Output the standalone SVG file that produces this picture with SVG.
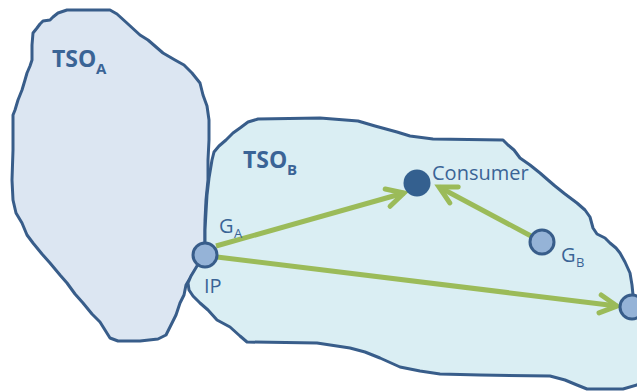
<svg xmlns="http://www.w3.org/2000/svg" width="637" height="392" viewBox="0 0 637 392">
<style>
.region{stroke:#385D8A;stroke-width:3;stroke-linejoin:round}
.node{fill:#95B3D7;stroke:#385D8A;stroke-width:3}
.flow{fill:none;stroke:#9BBB59;stroke-width:5}
.lbl{font-family:"Open Sans","DejaVu Sans",sans-serif;fill:#3A6496}
.big{font-weight:bold;font-size:23px}
.reg{font-size:20px}
</style>
<defs>
<marker id="chev" markerUnits="userSpaceOnUse" orient="auto" markerWidth="30" markerHeight="30" refX="0" refY="0" viewBox="-22 -15 30 30" overflow="visible">
<path d="M-17,-9 L0,0 L-17,9" fill="none" stroke="#9BBB59" stroke-width="5" stroke-linejoin="miter" stroke-linecap="round"/>
</marker>
</defs>
<rect width="637" height="392" fill="#FFFFFF"/>
<g id="tso-a">
<path class="region" fill="#DCE6F2" d="M58,13 L67,10 L110,10 L117,14 L128,24 L140,35 L148,40 L163,53 L175,60 L184,65 L192,73 L200,83 L203,95 L207,106 L209,120 L209,140 L208,160 L208,180 L206,200 L205,220 L205,255 L198,266 L192,275 L186,285 L184,295 L180,303 L176,315 L170,327 L166,335 L158,339 L140,341 L118,341 L110,338 L105,330 L100,322 L92,314 L83,303 L75,294 L67,283 L60,275 L50,263 L42,254 L33,243 L27,235 L22,223 L16,213 L13,200 L12,180 L13,150 L13,115 L15,110 L18,100 L22,90 L25,80 L27,73 L30,66 L32,60 L32,45 L33,33 L37,28 L40,24 L43,21 L50,20 L53,17 Z"/>
<text class="lbl big" x="52" y="67">TSO<tspan x="96" y="74" font-size="15">A</tspan></text>
</g>
<g id="tso-b">
<path class="region" fill="#DAEEF3" d="M205,255 L205,230 L206,212 L207,195 L209,178 L212,160 L214,152 L219,146 L226,140 L233,133 L240,128 L248,122 L258,119 L320,118 L358,121 L375,126 L397,132 L410,136 L433,139 L503,140 L508,145 L514,150 L520,158 L530,165 L540,173 L548,180 L555,186 L565,194 L577,203 L585,210 L590,217 L593,228 L597,234 L605,238 L610,243 L616,248 L620,253 L625,262 L630,273 L632,285 L633,295 L640,300 L645,380 L637,385 L623,389 L587,389 L577,385 L565,380 L550,376 L480,375 L440,374 L420,371 L400,367 L380,358 L365,352 L350,348 L317,343 L247,342 L240,336 L230,327 L217,320 L208,310 L200,303 L193,296 L189,290 L188,283 L191,276 L197,266 Z"/>
<text class="lbl big" x="243" y="168">TSO<tspan x="287" y="175" font-size="15">B</tspan></text>
</g>
<g id="connectors">
<line class="flow" x1="216" y1="246" x2="404" y2="193" marker-end="url(#chev)"/>
<line class="flow" x1="531" y1="236" x2="439" y2="187" marker-end="url(#chev)"/>
<line class="flow" x1="217" y1="257" x2="617" y2="306" marker-end="url(#chev)"/>
</g>
<g id="ip">
<circle class="node" cx="205" cy="255" r="12"/>
<text class="lbl reg" x="204" y="293">IP</text>
<text class="lbl reg" x="219" y="233">G<tspan x="234" y="238" font-size="13">A</tspan></text>
</g>
<g id="consumer">
<circle cx="417" cy="183" r="13.5" fill="#34608F"/>
<text class="lbl reg" x="432" y="180">Consumer</text>
</g>
<g id="gb">
<circle class="node" cx="542" cy="242" r="12"/>
<text class="lbl reg" x="561" y="262">G<tspan x="576" y="267" font-size="13">B</tspan></text>
</g>
<g id="right-node">
<circle class="node" cx="632" cy="307" r="12"/>
</g>
</svg>
